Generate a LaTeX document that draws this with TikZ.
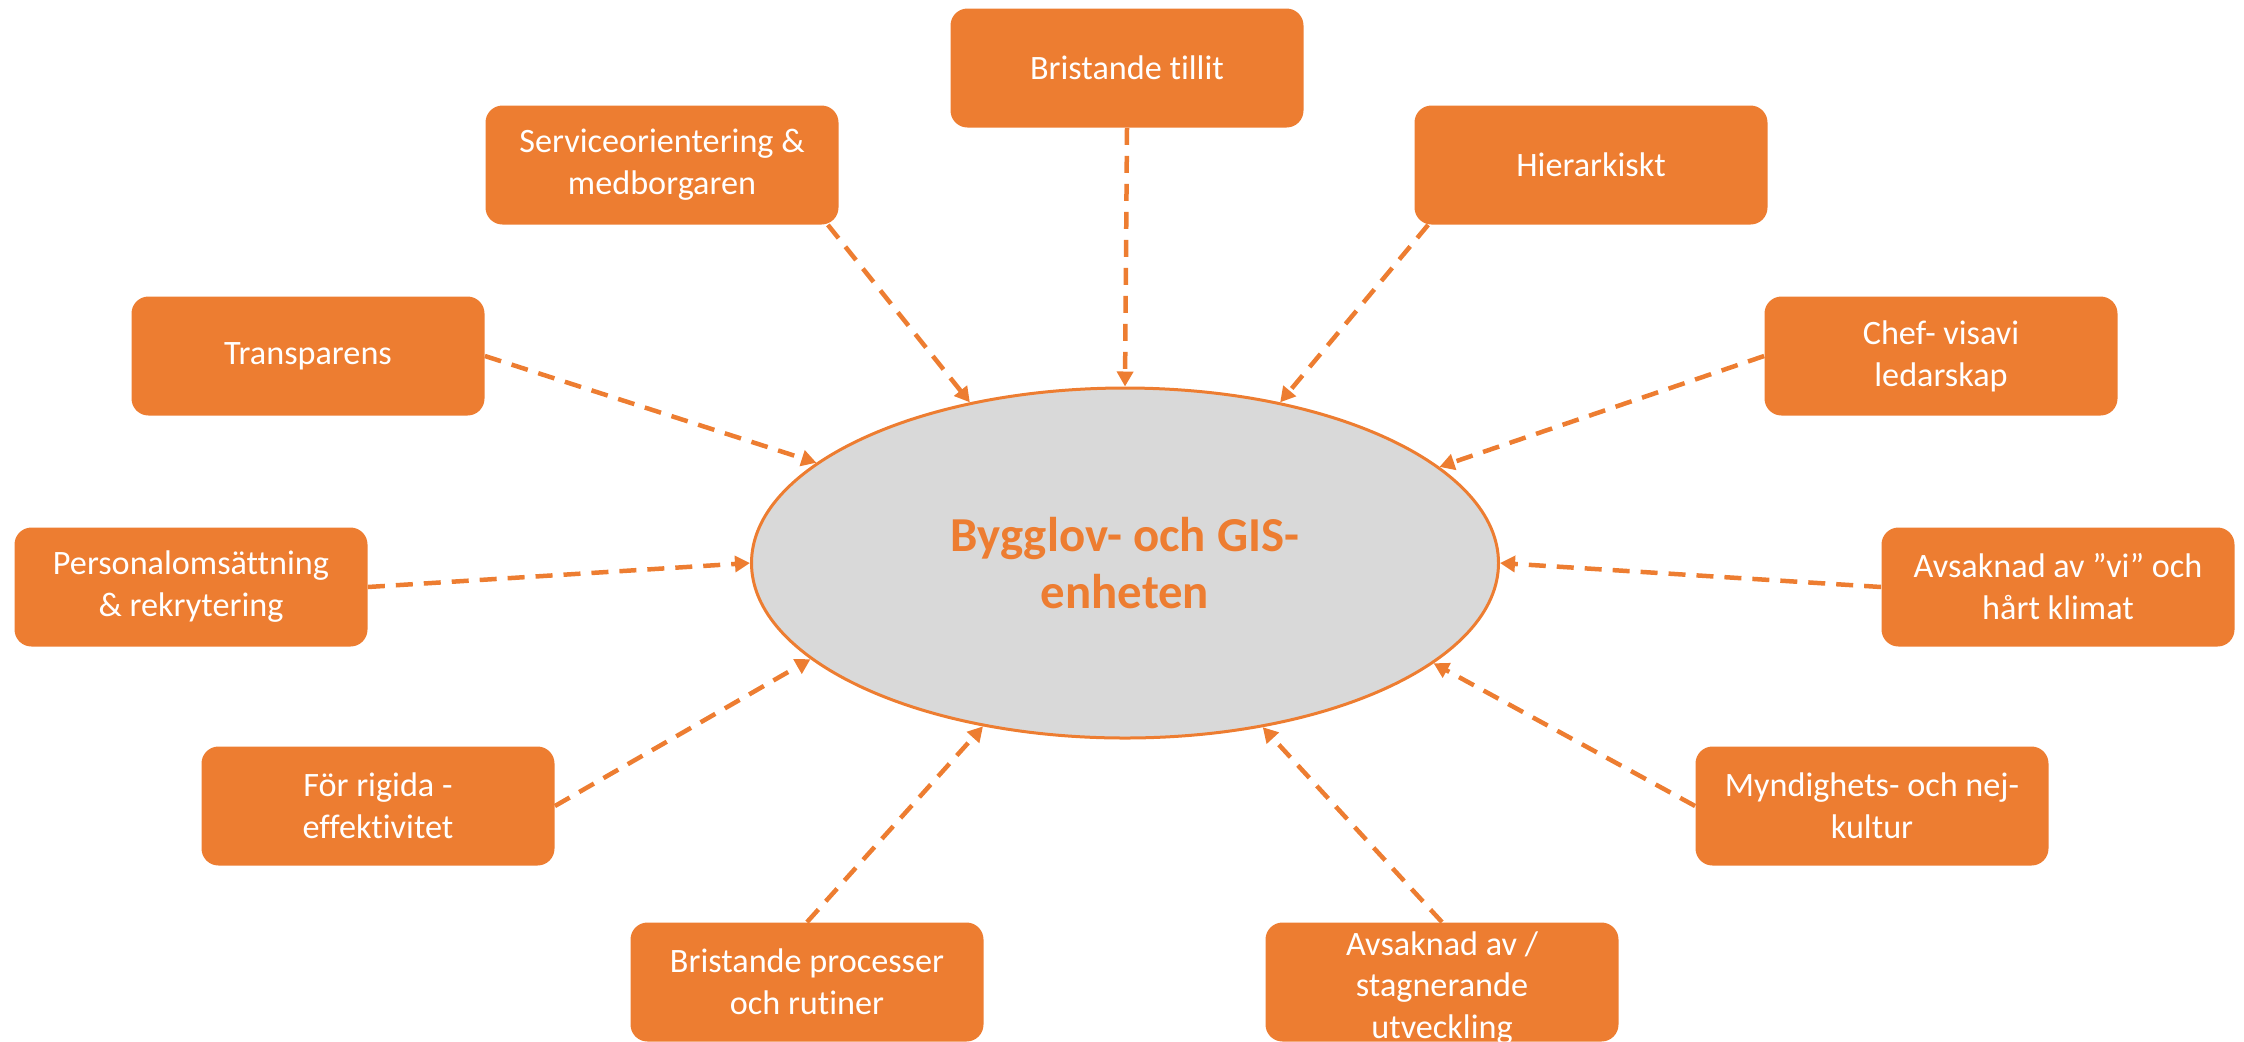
\documentclass[tikz,border=0pt]{standalone}
\usepackage{fontspec}
\setmainfont{Carlito}[Ligatures=NoCommon]
\usetikzlibrary{arrows.meta,shapes.geometric,calc}
\definecolor{orng}{HTML}{ED7D31}
\definecolor{lgray}{HTML}{D9D9D9}
\begin{document}
\begin{tikzpicture}[x=0.5pt,y=-0.5pt,
  box/.style={draw=none,fill=orng,rounded corners=8.5pt,minimum width=176.5pt,minimum height=59.5pt,
    text=white,align=center,font=\fontsize{17.1}{21}\selectfont,inner sep=0pt},
  boxtext/.style={text=white,align=center,font=\fontsize{17.1}{20.6}\selectfont,inner sep=0pt},
  conn/.style={draw=orng,line width=2.25pt,dash pattern=on 8.5pt off 5.5pt,
    -{Triangle[length=7.5pt,width=8pt]}},
]
\useasboundingbox (0,0) rectangle (2244,1041);
\node[ellipse,draw=orng,line width=1.5pt,fill=lgray,minimum width=373.5pt,minimum height=175pt,
  text=orng,align=center,font=\fontsize{24.4}{28.6}\selectfont\bfseries] (ell) at (1125,563)
  {Bygglov- och GIS-\\enheten};

\node[box] (b1) at (1127,68) {Bristande tillit};
\node[box] (b2) at (662,165) {Serviceorientering \&\\medborgaren};
\node[box] (b3) at (1591,165) {Hierarkiskt};
\node[box] (b4) at (308,356) {Transparens};
\node[box] (b5) at (1941,356) {Chef- visavi\\ledarskap};
\node[box] (b6) at (191,587) {Personalomsättning\\\& rekrytering};
\node[box] (b7) at (2058,587) {Avsaknad av ”vi” och\\hårt klimat};
\node[box] (b8) at (378,806) {För rigida -\\effektivitet};
\node[box] (b9) at (1872,806) {Myndighets- och nej-\\kultur};
\node[box] (b10) at (807,982) {Bristande processer\\och rutiner};
\node[box] (b11) at (1442,982) {};
\node[boxtext] at ($(b11)+(0,6)$) {Avsaknad av /\\stagnerande\\utveckling};

\draw[conn] (b1.south) -- (ell.north);
\draw[conn] ($(b2.south east)+(-11,0)$) -- (ell.134);
\draw[conn] ($(b3.south west)+(14,0)$) -- (ell.46);
\draw[conn] (b4.east) -- (ell.162.7);
\draw[conn] (b5.west) -- (ell.17.2);
\draw[conn] (b6.east) -- (ell.180);
\draw[conn] (b7.west) -- (ell.0);
\draw[conn] (b8.east) -- (ell.197.7);
\draw[conn] (b9.west) -- (ell.342.5);
\draw[conn] (b10.north) -- (ell.229.7);
\draw[conn] (b11.north) -- (ell.310.9);
\end{tikzpicture}
\end{document}
